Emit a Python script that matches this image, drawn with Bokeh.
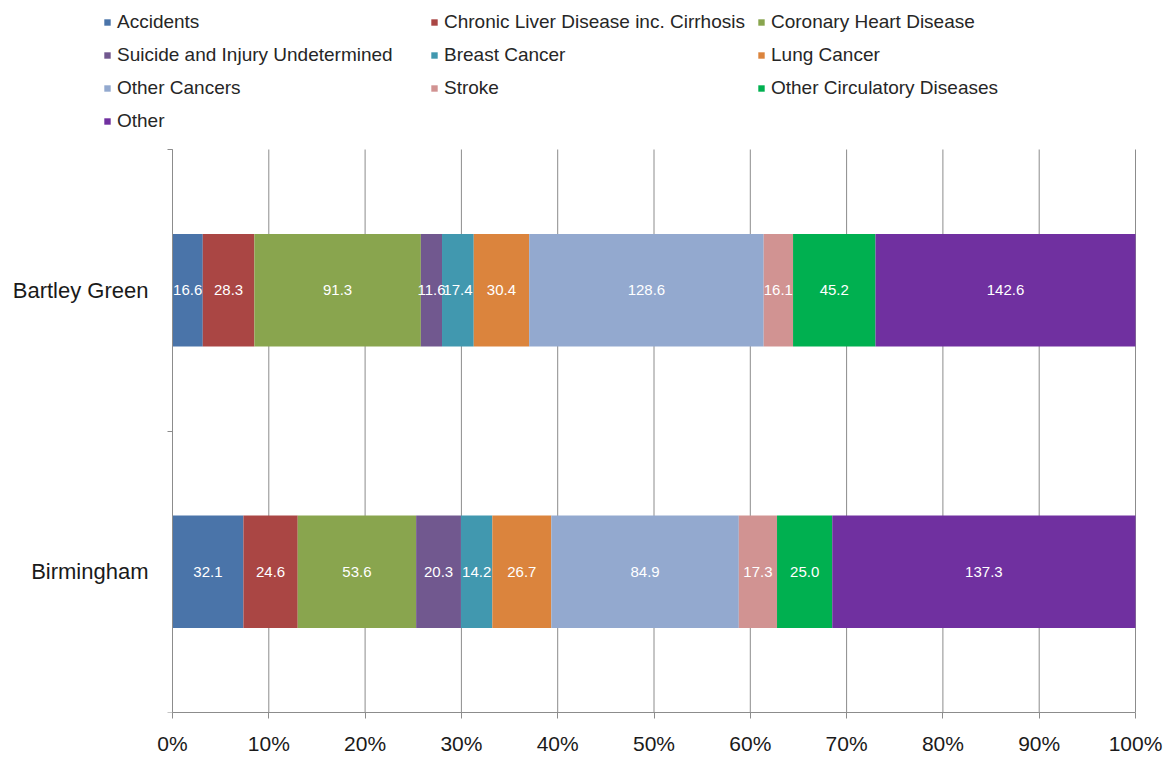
from bokeh.plotting import figure
from bokeh.models import (ColumnDataSource, Range1d, FixedTicker, NumeralTickFormatter,
                          Legend, LegendItem)
from bokeh.core.properties import value
from bokeh.embed import file_html
from bokeh.resources import INLINE

# Mortality by cause (rates), shown as share of the total for each area
regions = ["Bartley Green", "Birmingham"]
causes = [
    "Accidents",
    "Chronic Liver Disease inc. Cirrhosis",
    "Coronary Heart Disease",
    "Suicide and Injury Undetermined",
    "Breast Cancer",
    "Lung Cancer",
    "Other Cancers",
    "Stroke",
    "Other Circulatory Diseases",
    "Other",
]
bartley_green = [16.6, 28.3, 91.3, 11.6, 17.4, 30.4, 128.6, 16.1, 45.2, 142.6]
birmingham = [32.1, 24.6, 53.6, 20.3, 14.2, 26.7, 84.9, 17.3, 25.0, 137.3]
colors = ["#4A74A9", "#AA4644", "#89A54E", "#71588F", "#4198AF",
          "#DB843D", "#93A9CF", "#D19392", "#00B050", "#7030A0"]
pct_ticks = [0.0, 0.1, 0.2, 0.3, 0.4, 0.5, 0.6, 0.7, 0.8, 0.9, 1.0]

FONT = "Liberation Sans"
GREY = "#8c8c8c"

# page geometry (pixels): the bar area sits below a legend strip
W, H = 1174, 757
AREA_LEFT, AREA_RIGHT, AREA_TOP, AREA_BOTTOM = 172, 1135, 149, 712

rows = [bartley_green, birmingham]
n = len(regions)
ys = [n - i - 0.5 for i in range(n)]          # first region on top

# share of each cause within its area
keys = [f"c{j}" for j in range(len(causes))]
data = {"y": ys}
for j, k in enumerate(keys):
    data[k] = [row[j] / sum(row) for row in rows]
src = ColumnDataSource(data)

# segment centres for the value labels
lx, ly, lt = [], [], []
for i, row in enumerate(rows):
    total = sum(row)
    left = 0.0
    for v in row:
        share = v / total
        lx.append(left + share / 2)
        ly.append(ys[i])
        lt.append(f"{v:.1f}")
        left += share
lbl = ColumnDataSource(dict(x=lx, y=ly, text=lt))

# the frame covers the whole width and the legend strip; 0..1 spans the bar area
x_span = AREA_RIGHT - AREA_LEFT
x_range = Range1d(-AREA_LEFT / x_span, 1 + (W - AREA_RIGHT) / x_span)
y_range = Range1d(0, n * AREA_BOTTOM / (AREA_BOTTOM - AREA_TOP))

p = figure(width=W, height=H, output_backend="svg", toolbar_location=None,
           x_range=x_range, y_range=y_range,
           min_border_left=0, min_border_right=0,
           min_border_top=0, min_border_bottom=H - AREA_BOTTOM)
p.outline_line_color = None
p.background_fill_color = "white"
p.xgrid.grid_line_color = None
p.ygrid.grid_line_color = None

# vertical gridlines, only across the bar area
grid_src = ColumnDataSource(dict(x=pct_ticks, y0=[0] * len(pct_ticks),
                                 y1=[n] * len(pct_ticks)))
p.segment(x0="x", y0="y0", x1="x", y1="y1", source=grid_src,
          line_color=GREY, line_width=1)

renderers = p.hbar_stack(keys, y="y", height=0.4, source=src,
                         color=colors, line_color=None)

p.text(x="x", y="y", text="text", source=lbl, text_color="white",
       text_font=value(FONT), text_font_size="15px",
       text_align="center", text_baseline="middle")

# x axis: percentages
p.xaxis.bounds = (0, 1)
p.xaxis.ticker = FixedTicker(ticks=pct_ticks)
p.xaxis.formatter = NumeralTickFormatter(format="0%")
p.xaxis.axis_line_color = GREY
p.xaxis.major_tick_line_color = GREY
p.xaxis.major_tick_out = 6
p.xaxis.major_tick_in = 0
p.xaxis.minor_tick_line_color = None
p.xaxis.major_label_text_font = FONT
p.xaxis.major_label_text_font_size = "21px"
p.xaxis.major_label_text_color = "#1a1a1a"
p.xaxis.major_label_standoff = 13

# y axis: area names between boundary ticks, anchored at 0%
p.yaxis.fixed_location = 0
p.yaxis.bounds = (0, n)
p.yaxis.ticker = FixedTicker(ticks=ys, minor_ticks=[float(k) for k in range(n + 1)])
p.yaxis.major_label_overrides = {y: r for y, r in zip(ys, regions)}
p.yaxis.axis_line_color = GREY
p.yaxis.major_tick_line_color = None
p.yaxis.major_tick_out = 0
p.yaxis.major_tick_in = 0
p.yaxis.minor_tick_line_color = GREY
p.yaxis.minor_tick_out = 5
p.yaxis.minor_tick_in = 0
p.yaxis.major_label_text_font = FONT
p.yaxis.major_label_text_font_size = "22px"
p.yaxis.major_label_text_color = "#1a1a1a"
p.yaxis.major_label_standoff = 19

legend = Legend(
    items=[LegendItem(label=c, renderers=[r]) for c, r in zip(causes, renderers)],
    orientation="horizontal", ncols=3,
    location=(103, AREA_BOTTOM - 134),
    glyph_width=8, glyph_height=8, label_standoff=6,
    label_width=306, label_height=26, spacing=7,
    padding=0, margin=0,
    border_line_color=None, background_fill_alpha=0,
    label_text_font=FONT, label_text_font_size="19px", label_text_color="#262626",
)
p.add_layout(legend, "center")

open("out.html", "w").write(file_html(p, INLINE))
